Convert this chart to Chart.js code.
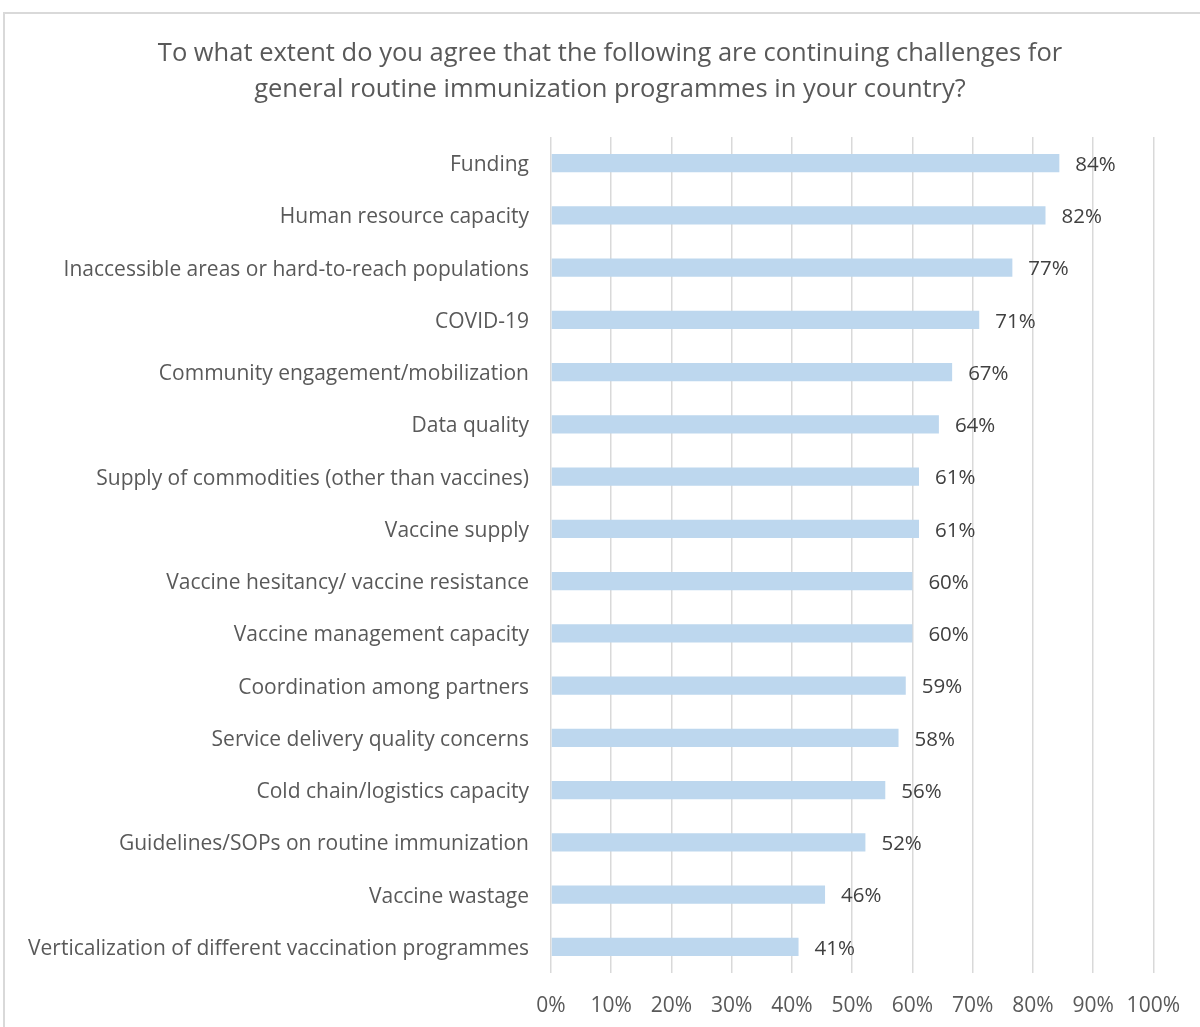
<!DOCTYPE html>
<html>
<head>
<meta charset="utf-8">
<script src="https://cdn.jsdelivr.net/npm/chart.js@4/dist/chart.umd.min.js"></script>
<style>
  html, body { margin: 0; padding: 0; background: #fff; }
  #wrap { position: relative; width: 1200px; height: 1027px; overflow: hidden; }
  #frame { position: absolute; left: 3px; top: 12px; width: 1300px; height: 1100px;
           border-left: 2px solid #d9d9d9; border-top: 2px solid #d9d9d9; box-sizing: border-box; }
  canvas { position: absolute; left: 0; top: 0; }
</style>
</head>
<body>
<div id="wrap">
  <div id="frame"></div>
  <canvas id="c" width="1200" height="1027"></canvas>
</div>
<script>
const titleLines = [
  "To what extent do you agree that the following are continuing challenges for",
  "general routine immunization programmes in your country?"
];
const categories = [
  "Funding",
  "Human resource capacity",
  "Inaccessible areas or hard-to-reach populations",
  "COVID-19",
  "Community engagement/mobilization",
  "Data quality",
  "Supply of commodities (other than vaccines)",
  "Vaccine supply",
  "Vaccine hesitancy/ vaccine resistance",
  "Vaccine management capacity",
  "Coordination among partners",
  "Service delivery quality concerns",
  "Cold chain/logistics capacity",
  "Guidelines/SOPs on routine immunization",
  "Vaccine wastage",
  "Verticalization of different vaccination programmes"
];
// share agreeing (%); labels show the rounded value
const values = [84.4, 82.1, 76.6, 71.1, 66.6, 64.4, 61.1, 61.1, 60.0, 60.0, 58.9, 57.7, 55.5, 52.2, 45.5, 41.1];
const xTickValues = [0, 10, 20, 30, 40, 50, 60, 70, 80, 90, 100];

const FONT = "'Open Sans', Lato, sans-serif";

const valueLabels = {
  id: 'valueLabels',
  afterDatasetsDraw(chart) {
    const ctx = chart.ctx;
    const meta = chart.getDatasetMeta(0);
    ctx.save();
    ctx.font = "20.5px " + FONT;
    ctx.fillStyle = "#404040";
    ctx.textAlign = "left";
    ctx.textBaseline = "middle";
    meta.data.forEach((bar, i) => {
      ctx.fillText(Math.round(values[i]) + "%", bar.x + 16, bar.y + 2);
    });
    ctx.restore();
  }
};

// centre the title over the whole frame rather than over the padded layout box
const titleShift = {
  id: 'titleShift',
  afterLayout(chart) {
    if (chart.titleBlock) {
      chart.titleBlock.left = 64;
      chart.titleBlock.right = 1156;
    }
  }
};

new Chart(document.getElementById('c'), {
  type: 'bar',
  data: {
    labels: categories,
    datasets: [{
      data: values,
      backgroundColor: '#bdd7ee',
      borderWidth: 0,
      barPercentage: 0.35,
      categoryPercentage: 1.0
    }]
  },
  plugins: [valueLabels, titleShift],
  options: {
    indexAxis: 'y',
    responsive: false,
    animation: false,
    devicePixelRatio: 1,
    layout: { padding: { left: 0, right: 44, top: 0, bottom: 0 } },
    plugins: {
      legend: { display: false },
      tooltip: { enabled: false },
      title: {
        display: true,
        text: titleLines,
        color: '#595959',
        font: { family: FONT, size: 25.5, weight: 'normal', lineHeight: 1.41 },
        padding: { top: 36, bottom: 29 }
      }
    },
    scales: {
      x: {
        type: 'linear',
        min: 0,
        max: 100,
        afterBuildTicks(scale) {
          scale.ticks = xTickValues.map(v => ({ value: v }));
        },
        afterFit(scale) { scale.height = 54; },
        ticks: {
          color: '#595959',
          font: { family: FONT, size: 21 },
          padding: 20,
          maxRotation: 0,
          callback: v => v + '%'
        },
        grid: { color: '#d9d9d9', lineWidth: 1.5, drawTicks: false },
        border: { display: false }
      },
      y: {
        type: 'category',
        afterFit(scale) { scale.width = 551; },
        ticks: {
          color: '#595959',
          font: { family: FONT, size: 21 },
          padding: 22,
          labelOffset: 2,
          autoSkip: false
        },
        grid: { display: false, drawTicks: false },
        border: { display: false }
      }
    }
  }
});
</script>
</body>
</html>
